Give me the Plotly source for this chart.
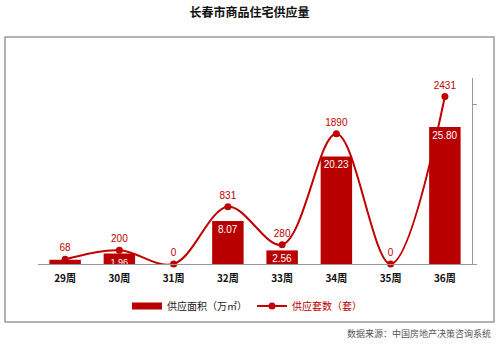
import plotly.graph_objects as go

weeks = ["29周", "30周", "31周", "32周", "33周", "34周", "35周", "36周"]
area_bar = [0.8, 1.96, 0, 8.07, 2.56, 20.23, 0, 25.80]
area_labels = ["", "1.96", "", "8.07", "2.56", "20.23", "", "25.80"]
units = [68, 200, 0, 831, 280, 1890, 0, 2431]

W, H = 499, 347
L, R, T, B = 38, 472, 78, 264
pw, ph = R - L, B - T

def px(x):
    return (x - L) / pw

def py(y):
    return (B - y) / ph

BAR = "#b80000"
LINE = "#c00000"

fig = go.Figure()
fig.add_trace(go.Bar(
    x=weeks, y=area_bar, name="供应面积（万㎡）", yaxis="y2", showlegend=False,
    marker=dict(color=BAR, line=dict(width=0)),
    width=0.58,
    text=area_labels, textposition="inside", insidetextanchor="end",
    textfont=dict(color="white", size=[10, 9, 10, 10, 10, 10, 10, 10], family="Liberation Sans"),
    textangle=0, cliponaxis=False,
))
fig.add_trace(go.Scatter(
    x=[None], y=[None], name="供应面积（万㎡）", yaxis="y2", mode="lines",
    line=dict(color=BAR, width=7),
))
fig.add_trace(go.Scatter(
    x=weeks, y=units, name='<span style="color:#c00000">供应套数（套）</span>',
    mode="lines+markers+text",
    line=dict(color=LINE, width=2, shape="spline", smoothing=1.0),
    marker=dict(color=LINE, size=7),
    text=[str(u) for u in units], textposition="top center",
    textfont=dict(color=LINE, size=10, family="Liberation Sans"),
    cliponaxis=False,
))

fig.update_layout(
    width=W, height=H,
    margin=dict(l=L, r=W - R, t=T, b=H - B),
    paper_bgcolor="white", plot_bgcolor="white",
    font=dict(family="Noto Sans CJK SC", color="#222"),
    showlegend=True,
    uniformtext=dict(minsize=9, mode="show"),
    title=dict(text="<b>长春市商品住宅供应量</b>", x=0.5, xanchor="center",
               y=1 - 13 / H, yanchor="middle", font=dict(size=12, color="#111")),
    xaxis=dict(showline=True, linecolor="#999", linewidth=1, ticks="",
               ticklabelstandoff=5,
               tickfont=dict(size=10, color="#111", family="Noto Sans CJK SC", weight="bold"),
               showgrid=False),
    yaxis=dict(range=[0, 2700], visible=False, showgrid=False),
    yaxis2=dict(range=[0, 35], overlaying="y", side="right", showline=True,
                linecolor="#999", linewidth=1, tickvals=[0, 30], ticks="outside",
                ticklen=4, tickcolor="#999", showticklabels=False, showgrid=False,
                zeroline=False),
    legend=dict(orientation="h", x=px(247), xanchor="center", y=py(306), yanchor="middle",
                font=dict(size=10, color="#222"), itemwidth=30, tracegroupgap=0,
                bgcolor="rgba(0,0,0,0)"),
    shapes=[dict(type="rect", xref="paper", yref="paper",
                 x0=px(5), x1=px(494), y0=py(322), y1=py(37),
                 line=dict(color="#9a9a9a", width=1.5), layer="below")],
    annotations=[dict(text="数据来源：中国房地产决策咨询系统", xref="paper", yref="paper",
                      x=px(493), y=py(333), xanchor="right", yanchor="middle",
                      showarrow=False, font=dict(size=9, color="#555"))],
)
fig.write_html("out.html")
